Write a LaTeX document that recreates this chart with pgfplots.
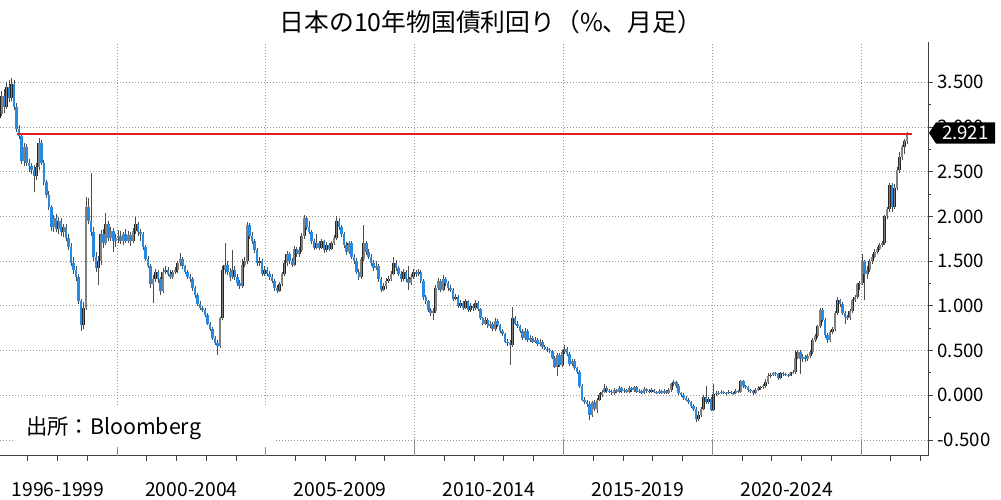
\documentclass[border=0pt]{standalone}
\usepackage{fontspec}
\setmainfont{Noto Sans CJK JP}
\usepackage{pgfplots}
\usepackage{pgfplotstable}
\pgfplotsset{compat=1.18}

\definecolor{jgbblue}{RGB}{38,138,228}
\definecolor{jgbgray}{RGB}{128,128,128}
\definecolor{gridgray}{RGB}{150,150,150}
\definecolor{hlred}{RGB}{225,30,35}

% monthly candles, i = months since Jan 1996
\pgfplotstableread{
i o h l c
0 3.10 3.22 3.04 3.15
1 3.15 3.40 3.12 3.35
2 3.35 3.42 3.16 3.22
3 3.22 3.50 3.20 3.45
4 3.45 3.52 3.28 3.32
5 3.32 3.55 3.29 3.48
6 3.48 3.52 3.19 3.22
7 3.22 3.27 2.94 2.98
8 2.98 3.02 2.86 2.90
9 2.90 2.93 2.59 2.62
10 2.62 2.82 2.56 2.78
11 2.78 2.81 2.56 2.60
12 2.60 2.64 2.50 2.56
13 2.56 2.60 2.47 2.52
14 2.52 2.57 2.27 2.45
15 2.45 2.60 2.41 2.55
16 2.55 2.88 2.52 2.82
17 2.82 2.85 2.57 2.60
18 2.60 2.63 2.35 2.38
19 2.38 2.41 2.20 2.24
20 2.24 2.28 2.07 2.10
21 2.10 2.13 1.84 1.88
22 1.88 2.02 1.83 1.98
23 1.98 2.03 1.82 1.86
24 1.86 1.99 1.80 1.95
25 1.95 1.98 1.78 1.82
26 1.82 1.92 1.77 1.88
27 1.88 1.92 1.72 1.76
28 1.76 1.80 1.62 1.66
29 1.66 1.70 1.45 1.48
30 1.48 1.54 1.36 1.40
31 1.40 1.44 1.28 1.32
32 1.32 1.35 1.02 1.05
33 1.05 1.08 0.72 0.78
34 0.78 1.04 0.74 0.98
35 0.98 2.22 0.95 2.10
36 2.10 2.20 1.92 1.95
37 1.95 2.49 1.78 1.82
38 1.82 1.88 1.50 1.55
39 1.55 1.60 1.38 1.42
40 1.42 1.56 1.23 1.50
41 1.50 1.85 1.46 1.80
42 1.80 1.86 1.65 1.70
43 1.70 2.04 1.68 1.92
44 1.92 1.95 1.72 1.76
45 1.76 1.88 1.72 1.84
46 1.84 1.87 1.60 1.72
47 1.72 1.80 1.66 1.76
48 1.76 1.85 1.70 1.78
49 1.78 1.84 1.69 1.72
50 1.72 1.83 1.68 1.80
51 1.80 1.86 1.70 1.73
52 1.73 1.84 1.70 1.79
53 1.79 1.82 1.67 1.72
54 1.72 1.87 1.70 1.84
55 1.84 1.99 1.80 1.92
56 1.92 1.94 1.78 1.82
57 1.82 1.86 1.72 1.80
58 1.80 1.82 1.62 1.66
59 1.66 1.68 1.50 1.52
60 1.52 1.56 1.42 1.45
61 1.45 1.47 1.20 1.24
62 1.24 1.34 1.03 1.30
63 1.30 1.41 1.27 1.38
64 1.38 1.40 1.26 1.30
65 1.30 1.32 1.12 1.16
66 1.16 1.42 1.14 1.38
67 1.38 1.44 1.35 1.40
68 1.40 1.43 1.33 1.36
69 1.36 1.40 1.30 1.32
70 1.32 1.40 1.30 1.38
71 1.38 1.43 1.35 1.40
72 1.40 1.50 1.37 1.48
73 1.48 1.59 1.45 1.52
74 1.52 1.54 1.41 1.44
75 1.44 1.46 1.35 1.38
76 1.38 1.40 1.30 1.32
77 1.32 1.35 1.27 1.30
78 1.30 1.32 1.17 1.20
79 1.20 1.22 1.09 1.12
80 1.12 1.14 1.00 1.02
81 1.02 1.05 0.95 0.97
82 0.97 1.00 0.93 0.95
83 0.95 0.97 0.87 0.90
84 0.90 0.92 0.78 0.80
85 0.80 0.82 0.72 0.74
86 0.74 0.76 0.62 0.64
87 0.64 0.66 0.56 0.58
88 0.58 0.62 0.45 0.55
89 0.55 0.88 0.53 0.86
90 0.86 1.45 0.84 1.40
91 1.40 1.70 1.36 1.46
92 1.46 1.50 1.34 1.38
93 1.38 1.42 1.28 1.32
94 1.32 1.62 1.30 1.40
95 1.40 1.44 1.29 1.32
96 1.32 1.35 1.22 1.25
97 1.25 1.29 1.19 1.22
98 1.22 1.52 1.20 1.46
99 1.46 1.54 1.43 1.50
100 1.50 1.94 1.47 1.90
101 1.90 1.93 1.75 1.78
102 1.78 1.82 1.69 1.72
103 1.72 1.75 1.59 1.62
104 1.62 1.65 1.45 1.48
105 1.48 1.54 1.44 1.50
106 1.50 1.52 1.33 1.36
107 1.36 1.44 1.33 1.40
108 1.40 1.43 1.33 1.36
109 1.36 1.39 1.29 1.32
110 1.32 1.35 1.25 1.28
111 1.28 1.30 1.17 1.20
112 1.20 1.23 1.14 1.17
113 1.17 1.27 1.15 1.24
114 1.24 1.38 1.22 1.35
115 1.35 1.51 1.33 1.48
116 1.48 1.61 1.45 1.58
117 1.58 1.60 1.47 1.50
118 1.50 1.53 1.43 1.46
119 1.46 1.67 1.44 1.64
120 1.64 1.66 1.55 1.58
121 1.58 1.66 1.54 1.62
122 1.62 1.81 1.60 1.78
123 1.78 2.02 1.75 1.98
124 1.98 2.00 1.85 1.88
125 1.88 1.95 1.80 1.83
126 1.83 1.85 1.69 1.72
127 1.72 1.75 1.62 1.65
128 1.65 1.80 1.63 1.70
129 1.70 1.73 1.62 1.65
130 1.65 1.75 1.63 1.72
131 1.72 1.74 1.59 1.62
132 1.62 1.71 1.60 1.68
133 1.68 1.70 1.61 1.64
134 1.64 1.73 1.62 1.70
135 1.70 1.79 1.68 1.76
136 1.76 2.00 1.74 1.95
137 1.95 1.98 1.85 1.88
138 1.88 1.90 1.77 1.80
139 1.80 1.83 1.65 1.68
140 1.68 1.71 1.57 1.60
141 1.60 1.73 1.58 1.70
142 1.70 1.72 1.52 1.55
143 1.55 1.58 1.47 1.50
144 1.50 1.53 1.35 1.38
145 1.38 1.41 1.29 1.32
146 1.32 1.55 1.30 1.52
147 1.52 1.90 1.50 1.70
148 1.70 1.73 1.57 1.60
149 1.60 1.63 1.52 1.55
150 1.55 1.58 1.45 1.48
151 1.48 1.51 1.39 1.42
152 1.42 1.50 1.40 1.45
153 1.45 1.47 1.27 1.30
154 1.30 1.32 1.15 1.18
155 1.18 1.26 1.16 1.22
156 1.22 1.31 1.19 1.28
157 1.28 1.33 1.25 1.30
158 1.30 1.39 1.28 1.36
159 1.36 1.55 1.34 1.48
160 1.48 1.51 1.39 1.42
161 1.42 1.45 1.33 1.36
162 1.36 1.39 1.27 1.30
163 1.30 1.41 1.28 1.38
164 1.38 1.40 1.27 1.30
165 1.30 1.45 1.18 1.25
166 1.25 1.35 1.23 1.32
167 1.32 1.41 1.30 1.38
168 1.38 1.40 1.32 1.35
169 1.35 1.41 1.33 1.38
170 1.38 1.40 1.25 1.28
171 1.28 1.30 1.07 1.10
172 1.10 1.12 1.02 1.05
173 1.05 1.07 0.93 0.95
174 0.95 0.97 0.89 0.92
175 0.92 0.97 0.84 0.94
176 0.94 1.23 0.92 1.20
177 1.20 1.31 1.18 1.28
178 1.28 1.30 1.15 1.18
179 1.18 1.34 1.16 1.30
180 1.30 1.32 1.22 1.25
181 1.25 1.28 1.17 1.20
182 1.20 1.23 1.15 1.18
183 1.18 1.20 1.05 1.08
184 1.08 1.13 1.06 1.10
185 1.10 1.12 0.97 1.00
186 1.00 1.06 0.98 1.03
187 1.03 1.05 0.95 0.98
188 0.98 1.08 0.96 1.05
189 1.05 1.07 0.93 0.95
190 0.95 1.03 0.93 1.00
191 1.00 1.02 0.94 0.97
192 0.97 1.06 0.95 1.03
193 1.03 1.05 0.94 0.96
194 0.96 0.98 0.84 0.86
195 0.86 0.88 0.78 0.80
196 0.80 0.87 0.78 0.84
197 0.84 0.86 0.75 0.77
198 0.77 0.83 0.75 0.80
199 0.80 0.82 0.72 0.74
200 0.74 0.86 0.72 0.83
201 0.83 0.85 0.76 0.78
202 0.78 0.80 0.70 0.72
203 0.72 0.74 0.66 0.68
204 0.68 0.70 0.58 0.60
205 0.60 0.63 0.55 0.58
206 0.58 0.62 0.34 0.56
207 0.56 0.99 0.54 0.86
208 0.86 0.89 0.78 0.80
209 0.80 0.83 0.75 0.77
210 0.77 0.79 0.70 0.72
211 0.72 0.74 0.62 0.64
212 0.64 0.75 0.62 0.72
213 0.72 0.74 0.60 0.62
214 0.62 0.67 0.60 0.64
215 0.64 0.66 0.58 0.60
216 0.60 0.65 0.58 0.62
217 0.62 0.64 0.55 0.57
218 0.57 0.63 0.55 0.60
219 0.60 0.62 0.52 0.54
220 0.54 0.56 0.50 0.52
221 0.52 0.54 0.48 0.50
222 0.50 0.53 0.47 0.49
223 0.49 0.51 0.40 0.42
224 0.42 0.44 0.30 0.32
225 0.32 0.47 0.21 0.45
226 0.45 0.47 0.32 0.34
227 0.34 0.51 0.32 0.48
228 0.48 0.56 0.46 0.52
229 0.52 0.54 0.44 0.46
230 0.46 0.48 0.33 0.35
231 0.35 0.41 0.33 0.38
232 0.38 0.40 0.28 0.30
233 0.30 0.32 0.24 0.26
234 0.26 0.28 0.08 0.10
235 0.10 0.12 -0.07 -0.05
236 -0.05 -0.02 -0.10 -0.08
237 -0.08 -0.05 -0.13 -0.10
238 -0.10 -0.07 -0.28 -0.22
239 -0.22 -0.06 -0.24 -0.08
240 -0.08 -0.05 -0.18 -0.15
241 -0.15 -0.03 -0.20 -0.05
242 -0.05 0.02 -0.07 0.00
243 0.00 0.06 -0.02 0.04
244 0.04 0.13 0.02 0.08
245 0.08 0.10 0.03 0.05
246 0.05 0.07 0.02 0.04
247 0.04 0.06 0.00 0.02
248 0.02 0.08 0.00 0.06
249 0.06 0.07 0.02 0.04
250 0.04 0.10 0.02 0.08
251 0.08 0.09 0.03 0.05
252 0.05 0.08 0.03 0.06
253 0.06 0.07 0.02 0.04
254 0.04 0.10 0.02 0.08
255 0.08 0.09 0.04 0.06
256 0.06 0.10 0.04 0.09
257 0.09 0.10 0.02 0.04
258 0.04 0.07 0.02 0.05
259 0.05 0.06 0.01 0.03
260 0.03 0.09 0.01 0.07
261 0.07 0.08 0.03 0.05
262 0.05 0.07 0.02 0.04
263 0.04 0.08 0.02 0.06
264 0.06 0.07 0.02 0.04
265 0.04 0.05 0.01 0.03
266 0.03 0.07 0.01 0.05
267 0.05 0.06 0.01 0.03
268 0.03 0.07 0.01 0.05
269 0.05 0.06 0.01 0.03
270 0.03 0.08 0.01 0.06
271 0.06 0.14 0.04 0.12
272 0.12 0.17 0.10 0.15
273 0.15 0.16 0.08 0.10
274 0.10 0.12 0.00 0.02
275 0.02 0.04 -0.02 0.00
276 0.00 0.02 -0.05 -0.03
277 -0.03 -0.01 -0.07 -0.05
278 -0.05 -0.03 -0.10 -0.08
279 -0.08 -0.06 -0.14 -0.12
280 -0.12 -0.10 -0.18 -0.15
281 -0.15 -0.13 -0.30 -0.27
282 -0.27 -0.18 -0.29 -0.22
283 -0.22 -0.13 -0.24 -0.15
284 -0.15 0.00 -0.17 -0.02
285 -0.02 0.10 -0.10 -0.08
286 -0.08 -0.02 -0.10 -0.04
287 -0.04 -0.02 -0.18 -0.16
288 -0.16 0.13 -0.18 0.01
289 0.01 0.05 -0.01 0.03
290 0.03 0.05 0.00 0.02
291 0.02 0.06 0.01 0.04
292 0.04 0.05 0.01 0.03
293 0.03 0.04 0.00 0.02
294 0.02 0.06 0.01 0.04
295 0.04 0.05 0.01 0.03
296 0.03 0.04 0.00 0.02
297 0.02 0.07 0.01 0.05
298 0.05 0.06 0.02 0.04
299 0.04 0.17 0.03 0.16
300 0.16 0.17 0.08 0.10
301 0.10 0.11 0.07 0.09
302 0.09 0.10 0.04 0.06
303 0.06 0.07 0.03 0.05
304 0.05 0.06 0.00 0.02
305 0.02 0.08 0.01 0.06
306 0.06 0.10 0.05 0.08
307 0.08 0.10 0.06 0.09
308 0.09 0.12 0.07 0.10
309 0.10 0.18 0.08 0.15
310 0.15 0.25 0.13 0.22
311 0.22 0.25 0.19 0.23
312 0.23 0.26 0.21 0.25
313 0.25 0.26 0.21 0.24
314 0.24 0.25 0.17 0.19
315 0.19 0.26 0.18 0.25
316 0.25 0.26 0.22 0.24
317 0.24 0.25 0.22 0.23
318 0.23 0.24 0.20 0.22
319 0.22 0.26 0.21 0.25
320 0.25 0.28 0.24 0.26
321 0.26 0.50 0.24 0.42
322 0.42 0.50 0.40 0.48
323 0.48 0.51 0.24 0.40
324 0.40 0.46 0.37 0.43
325 0.43 0.45 0.37 0.40
326 0.40 0.46 0.38 0.44
327 0.44 0.50 0.42 0.48
328 0.48 0.64 0.46 0.62
329 0.62 0.68 0.60 0.66
330 0.66 0.79 0.64 0.77
331 0.77 0.97 0.75 0.95
332 0.95 0.97 0.82 0.84
333 0.84 0.86 0.64 0.67
334 0.67 0.70 0.58 0.62
335 0.62 0.73 0.60 0.71
336 0.71 0.76 0.68 0.74
337 0.74 0.94 0.72 0.92
338 0.92 1.10 0.90 1.06
339 1.06 1.08 0.99 1.02
340 1.02 1.04 0.90 0.92
341 0.92 0.94 0.80 0.88
342 0.88 0.90 0.84 0.86
343 0.86 0.96 0.84 0.94
344 0.94 1.08 0.92 1.06
345 1.06 1.12 1.04 1.10
346 1.10 1.26 1.08 1.24
347 1.24 1.28 1.18 1.25
348 1.25 1.58 1.23 1.50
349 1.50 1.51 1.06 1.36
350 1.36 1.44 1.30 1.40
351 1.40 1.52 1.38 1.50
352 1.50 1.58 1.47 1.55
353 1.55 1.63 1.53 1.60
354 1.60 1.66 1.58 1.64
355 1.64 1.70 1.62 1.68
356 1.68 1.72 1.66 1.70
357 1.70 2.02 1.68 2.00
358 2.00 2.10 1.97 2.08
359 2.08 2.37 2.05 2.35
360 2.35 2.37 2.05 2.10
361 2.10 2.36 2.08 2.32
362 2.32 2.55 2.30 2.52
363 2.52 2.72 2.49 2.66
364 2.66 2.80 2.63 2.78
365 2.78 2.87 2.70 2.84
366 2.84 2.94 2.81 2.92
}\candles

\begin{document}
\begin{tikzpicture}
% 1px of the reference = 0.75pt
\path[use as bounding box] (0,-33pt) rectangle (750.75pt,342pt);
\begin{axis}[
  at={(0,0)}, anchor=south west,
  scale only axis, width=696pt, height=310.5pt,
  xmin=0.33, xmax=374.5, ymin=-0.68, ymax=3.95,
  clip=false,
  axis x line*=bottom, axis y line*=right,
  axis line style={draw=black!75, line width=0.75pt},
  tick align=outside,
  major tick length=3.6pt, minor tick length=2.2pt,
  tick style={draw=black!75, line width=0.6pt},
  xtick={11.5,23.5,35.5,59.5,71.5,83.5,95.5,119.5,131.5,143.5,155.5,179.5,191.5,203.5,215.5,239.5,251.5,263.5,275.5,299.5,311.5,323.5,335.5,359.5,371.5},
  xticklabels={},
  ytick={-0.5,0,0.5,1,1.5,2,2.5,3,3.5},
  minor y tick num=1,
  ymajorgrids,
  grid style={draw=gridgray, line width=0.6pt, dash pattern=on 0.75pt off 1.5pt},
  /pgf/number format/assume math mode=true,
  yticklabel style={font=\fontsize{14}{16}\selectfont,
    /pgf/number format/fixed, /pgf/number format/fixed zerofill,
    /pgf/number format/precision=3},
]
\pgfplotsinvokeforeach{47.5,107.5,167.5,227.5,287.5,347.5}{
  \draw[gridgray, line width=0.6pt, dash pattern=on 0.75pt off 1.5pt]
    (axis cs:#1,-0.68) -- (axis cs:#1,3.95);
  \draw[black!45, line width=0.6pt] (axis cs:#1,-0.68) -- ++(0,-33pt);
}

% wicks
\addplot[draw=none, mark=none, forget plot,
  error bars/.cd, y dir=plus, y explicit, error mark=none,
  error bar style={draw=black!70, line width=0.5pt}]
  table[x=i, y=l, y error expr=\thisrow{h}-\thisrow{l}] {\candles};
% rising months: gray body, black edge
\addplot[draw=none, mark=none, forget plot,
  restrict expr to domain={\thisrow{c}-\thisrow{o}}{0:10},
  error bars/.cd, y dir=plus, y explicit, error mark=none,
  error bar style={draw=black!85, line width=2.1pt}]
  table[x=i, y=o, y error expr=\thisrow{c}-\thisrow{o}] {\candles};
\addplot[draw=none, mark=none, forget plot,
  restrict expr to domain={\thisrow{c}-\thisrow{o}}{0:10},
  error bars/.cd, y dir=plus, y explicit, error mark=none,
  error bar style={draw=jgbgray, line width=1.3pt}]
  table[x=i, y=o, y error expr=\thisrow{c}-\thisrow{o}] {\candles};
% falling months: blue body
\addplot[draw=none, mark=none, forget plot,
  restrict expr to domain={\thisrow{c}-\thisrow{o}}{-10:-0.0001},
  error bars/.cd, y dir=plus, y explicit, error mark=none,
  error bar style={draw=jgbblue, line width=1.9pt}]
  table[x=i, y=c, y error expr=\thisrow{o}-\thisrow{c}] {\candles};

% latest level
\addplot[hlred, line width=1.6pt, forget plot] coordinates {(7.2,2.921) (368,2.921)};

\node[font=\fontsize{14.5}{17}\selectfont] at (axis cs:23.7,-0.68) [yshift=-25.5pt] {1996-1999};
\node[font=\fontsize{14.5}{17}\selectfont] at (axis cs:77.5,-0.68) [yshift=-25.5pt] {2000-2004};
\node[font=\fontsize{14.5}{17}\selectfont] at (axis cs:137.5,-0.68) [yshift=-25.5pt] {2005-2009};
\node[font=\fontsize{14.5}{17}\selectfont] at (axis cs:197.5,-0.68) [yshift=-25.5pt] {2010-2014};
\node[font=\fontsize{14.5}{17}\selectfont] at (axis cs:257.5,-0.68) [yshift=-25.5pt] {2015-2019};
\node[font=\fontsize{14.5}{17}\selectfont] at (axis cs:317.5,-0.68) [yshift=-25.5pt] {2020-2024};
\end{axis}

% title
\node[font=\fontsize{18.6}{22}\selectfont] at (368.25pt,325.5pt) {日本の10年物国債利回り（\%、月足）};
% source
\fill[white] (11.25pt,6.75pt) rectangle (206.25pt,36.75pt);
\node[font=\fontsize{16}{18}\selectfont, anchor=west, inner sep=0pt] at (19.5pt,21pt) {出所：Bloomberg};
% last value tag
\fill[black] (696.75pt,242.25pt) -- (702pt,250.15pt) -- (746.25pt,250.15pt)
  -- (746.25pt,234.35pt) -- (702pt,234.35pt) -- cycle;
\node[text=white, font=\fontsize{14}{16}\selectfont, inner sep=0pt] at (724pt,242.25pt) {2.921};
\end{tikzpicture}
\end{document}
